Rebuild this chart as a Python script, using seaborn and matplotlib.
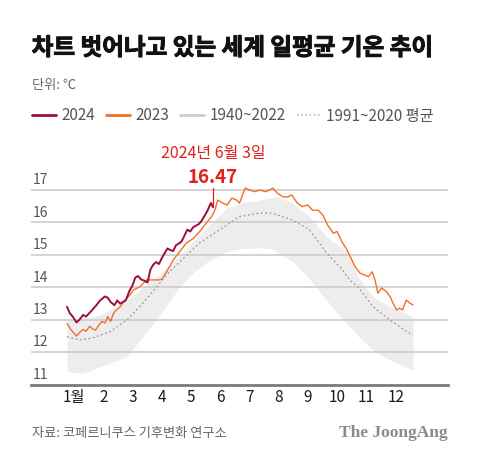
import matplotlib
matplotlib.use("Agg")
import matplotlib.pyplot as plt
import matplotlib.patheffects as pe
from matplotlib.lines import Line2D
import numpy as np
import pandas as pd
import seaborn as sns

# day of year (0 = Jan 1) and global daily mean air temperature
days_2024 = [0, 3, 6, 10, 13, 17, 20, 24, 28, 31, 35, 40, 43, 46, 50, 53, 56, 59,
             62, 66, 69, 72, 75, 78, 82, 85, 88, 91, 94, 97, 100, 103, 106, 109,
             112, 115, 118, 121, 124, 127, 130, 133, 136, 139, 142, 145, 148, 151,
             152, 154]
temp_2024 = [13.40, 13.20, 13.10, 12.92, 13.00, 13.15, 13.10, 13.22, 13.35, 13.45,
             13.60, 13.72, 13.68, 13.55, 13.45, 13.60, 13.50, 13.55, 13.60, 13.90,
             14.05, 14.30, 14.35, 14.25, 14.20, 14.15, 14.55, 14.70, 14.78, 14.72,
             14.90, 15.05, 15.20, 15.15, 15.12, 15.30, 15.35, 15.42, 15.60, 15.78,
             15.72, 15.85, 15.90, 15.95, 16.05, 16.20, 16.35, 16.55, 16.60, 16.47]

days_2023 = [0, 4, 7, 10, 13, 17, 20, 24, 27, 30, 34, 37, 40, 43, 46, 49, 52, 56,
             61, 66, 70, 77, 84, 90, 98, 101, 106, 112, 119, 126, 133, 140, 148, 153,
             156, 159, 164, 169, 174, 179, 182, 188, 193, 198, 204, 209, 214, 217,
             222, 228, 233, 237, 243, 248, 254, 259, 265, 270, 275, 281, 285, 290,
             295, 299, 304, 309, 314, 318, 322, 325, 328, 332, 337, 341, 344, 348,
             351, 354, 358, 362, 365]
temp_2023 = [12.89, 12.70, 12.60, 12.50, 12.60, 12.70, 12.65, 12.80, 12.72, 12.68,
             12.85, 12.95, 12.90, 13.10, 12.95, 13.20, 13.30, 13.40, 13.60, 13.75,
             13.92, 14.02, 14.23, 14.23, 14.23, 14.28, 14.53, 14.84, 15.10, 15.37,
             15.50, 15.72, 16.02, 16.20, 16.38, 16.69, 16.60, 16.54, 16.75, 16.69,
             16.60, 17.06, 17.00, 16.95, 17.00, 16.95, 17.00, 17.06, 16.90, 16.79,
             16.79, 16.85, 16.60, 16.49, 16.54, 16.38, 16.38, 16.23, 15.92, 15.67,
             15.72, 15.41, 15.18, 14.94, 14.64, 14.44, 14.38, 14.33, 14.48, 14.23,
             13.82, 13.98, 13.87, 13.71, 13.51, 13.30, 13.36, 13.30, 13.61, 13.51,
             13.46]

days_mean = [0, 14, 27, 45, 63, 80, 98, 108, 140, 182, 203, 216, 238, 256, 274,
             291, 298, 307, 323, 341, 359, 365]
temp_mean = [12.48, 12.38, 12.44, 12.63, 12.99, 13.51, 14.13, 14.48, 15.37, 16.18,
             16.29, 16.29, 16.08, 15.77, 15.06, 14.53, 14.23, 14.02, 13.40, 12.99,
             12.63, 12.53]

# envelope of the 1940~2022 lines
days_band = [0, 17, 35, 63, 80, 98, 119, 133, 151, 169, 186, 203, 214, 221, 238,
             256, 274, 288, 298, 307, 323, 341, 365]
band_low = [11.40, 11.35, 11.55, 11.86, 12.48, 13.15, 14.02, 14.45, 14.85, 15.10,
            15.20, 15.22, 15.20, 15.10, 14.80, 14.25, 13.61, 13.10, 12.79, 12.50,
            12.07, 11.76, 11.45]
band_high = [13.00, 13.05, 13.15, 13.60, 14.00, 14.40, 15.00, 15.40, 15.95, 16.45,
             16.62, 16.69, 16.75, 16.80, 16.60, 16.18, 15.56, 15.25, 15.06, 14.33,
             13.71, 13.40, 13.10]

month_labels = ["1월", "2", "3", "4", "5", "6", "7", "8", "9", "10", "11", "12"]
y_labels = [11, 12, 13, 14, 15, 16, 17]

peak_label = "2024년 6월 3일"
peak_value = 16.47

C2024 = "#9c0d3d"
C2023 = "#f26f2b"
RED = "#e3211b"

sns.set_theme(style="white")
plt.rcParams["font.family"] = ["Noto Sans CJK KR", "DejaVu Sans"]

fig = plt.figure(figsize=(4.8, 4.61), dpi=100)
ax = fig.add_axes([0.0646, 0.1655, 0.8687, 0.4645])

band = pd.DataFrame({"day": days_band, "low": band_low, "high": band_high})
ax.fill_between(band["day"], band["low"], band["high"], color="#ededed",
                lw=0, zorder=1)

for v in y_labels:
    if v == 11:
        continue
    ax.axhline(v, color="#cccccc", lw=1.2, zorder=1.5)

sns.lineplot(x=days_mean, y=temp_mean, ax=ax, color="#999999", lw=0.9,
             linestyle=(0, (1.5, 2)), zorder=2)
sns.lineplot(x=days_2023, y=temp_2023, ax=ax, color=C2023, lw=1.0, zorder=3)
sns.lineplot(x=days_2024, y=temp_2024, ax=ax, color=C2024, lw=1.4, zorder=4)

ax.set_xlim(-38, 402)
ax.set_ylim(11, 17.6)
ax.set_yticks([])
ax.set_xticks(np.linspace(7.5, 347, 12))
ax.set_xticklabels(month_labels, fontsize=11, color="#1a1a1a")
ax.tick_params(axis="x", length=0, pad=3)
ax.set_xlabel("")
ax.set_ylabel("")
for s in ["top", "right", "left"]:
    ax.spines[s].set_visible(False)
ax.spines["bottom"].set_color("#7a7a7a")
ax.spines["bottom"].set_linewidth(2)

for v in y_labels:
    ax.annotate(str(v), xy=(0, v), xycoords=("axes fraction", "data"),
                xytext=(1, 2), textcoords="offset points", ha="left",
                va="bottom", fontsize=10, color="#555555")

# peak annotation
ax.plot([days_2024[-1], days_2024[-1]], [peak_value, 17.05], color=RED,
        lw=0.9, zorder=5)
ax.annotate(f"{peak_value:.2f}", xy=(days_2024[-1], 17.05), xytext=(0, 1),
            textcoords="offset points", ha="center", va="bottom",
            fontsize=13.5, fontweight="bold", color=RED)
ax.annotate(peak_label, xy=(days_2024[-1], 17.05), xytext=(0, 19),
            textcoords="offset points", ha="center", va="bottom",
            fontsize=11.5, color=RED)

title = fig.text(0.066, 1 - 48 / 461, "차트 벗어나고 있는 세계 일평균 기온 추이",
                 fontsize=17, fontweight="bold", color="#111111", va="center")
title.set_path_effects([pe.withStroke(linewidth=0.7, foreground="#111111")])
fig.text(0.066, 1 - 86 / 461, "단위: ℃", fontsize=9.5, color="#666666",
         va="center")

handles = [Line2D([], [], color=C2024, lw=2),
           Line2D([], [], color=C2023, lw=2),
           Line2D([], [], color="#cccccc", lw=2),
           Line2D([], [], color="#bbbbbb", lw=1.2, linestyle=(0, (1, 1.5)))]
fig.legend(handles, ["2024", "2023", "1940~2022", "1991~2020 평균"],
           loc="center left", bbox_to_anchor=(32 / 480, 1 - 116 / 461), ncol=4,
           frameon=False, fontsize=11, handlelength=1.55, handletextpad=0.35,
           columnspacing=0.75, borderpad=0, borderaxespad=0,
           labelcolor="#555555")

fig.text(0.066, 1 - 433 / 461, "자료: 코페르니쿠스 기후변화 연구소", fontsize=9.5,
         color="#666666", va="center")
fig.text(0.933, 1 - 433 / 461, "The JoongAng", fontsize=12.5, color="#8a8a8a",
         fontweight="bold", family="Liberation Serif", ha="right", va="center")

fig.savefig("out.png", dpi=100)
